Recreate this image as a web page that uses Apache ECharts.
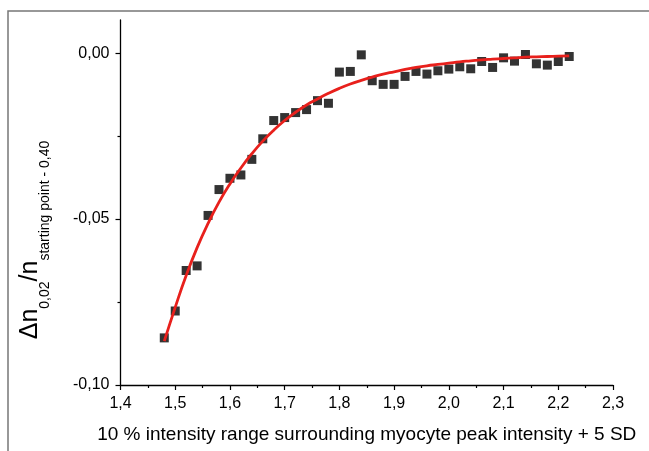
<!DOCTYPE html>
<html>
<head>
<meta charset="utf-8">
<script src="https://cdn.jsdelivr.net/npm/echarts@6/dist/echarts.min.js"></script>
<style>
html,body{margin:0;padding:0;background:#fff;}
#chart{width:649px;height:451px;}
</style>
</head>
<body>
<div id="chart"></div>
<script>
// measured data points (x, Δn ratio)
const xValues = [1.48,1.50,1.52,1.54,1.56,1.58,1.60,1.62,1.64,1.66,1.68,1.70,1.72,1.74,1.76,1.78,1.80,1.82,1.84,1.86,1.88,1.90,1.92,1.94,1.96,1.98,2.00,2.02,2.04,2.06,2.08,2.10,2.12,2.14,2.16,2.18,2.20,2.22];
const yValues = [-0.0858,-0.0777,-0.0655,-0.0641,-0.0489,-0.0411,-0.0377,-0.0367,-0.0320,-0.0258,-0.0203,-0.0194,-0.0179,-0.0170,-0.0143,-0.0151,-0.0057,-0.0055,-0.0005,-0.0083,-0.0094,-0.0094,-0.0070,-0.0055,-0.0063,-0.0053,-0.0048,-0.0041,-0.0047,-0.0025,-0.0043,-0.0014,-0.0024,-0.0004,-0.0032,-0.0036,-0.0025,-0.0010];
// fitted curve
const fitX = [1.48,1.50,1.52,1.54,1.56,1.58,1.60,1.62,1.64,1.66,1.68,1.70,1.72,1.74,1.76,1.78,1.80,1.82,1.84,1.86,1.88,1.90,1.92,1.94,1.96,1.98,2.00,2.02,2.04,2.06,2.08,2.10,2.12,2.14,2.16,2.18,2.20,2.22];
const fitY = [-0.0868,-0.0766,-0.0670,-0.0586,-0.0513,-0.0449,-0.0394,-0.0346,-0.0303,-0.0265,-0.0232,-0.0203,-0.0178,-0.0156,-0.0138,-0.0121,-0.0106,-0.0093,-0.0082,-0.0072,-0.0063,-0.0056,-0.0049,-0.0043,-0.0038,-0.0034,-0.0030,-0.0026,-0.0023,-0.0020,-0.0018,-0.0016,-0.0014,-0.0012,-0.0011,-0.0010,-0.0009,-0.0008];
// axis ticks
const yMajorTicks = [-0.10,-0.05,0.00];
const yMinorTicks = [-0.075,-0.025];
const xTitle = '10 % intensity range surrounding myocyte peak intensity + 5 SD';

const chart = echarts.init(document.getElementById('chart'), null, {renderer:'canvas'});
const fmt = (v, d) => v.toFixed(d).replace('.', ',');
const FONT = 'Liberation Sans, Arial, sans-serif';

chart.setOption({
  animation: false,
  backgroundColor: '#fff',
  grid: {left: 120.5, right: 36, top: 20, bottom: 66, containLabel: false},
  xAxis: {
    type: 'value', min: 1.4, max: 2.3, interval: 0.1,
    axisLine: {onZero: false, lineStyle: {color: '#000', width: 1.3}},
    axisTick: {length: 5, lineStyle: {color: '#000', width: 1.2}},
    minorTick: {show: true, splitNumber: 2, length: 3, lineStyle: {color: '#000', width: 1.2}},
    splitLine: {show: false},
    axisLabel: {color: '#000', fontSize: 16, fontFamily: FONT, margin: 11, formatter: v => fmt(v, 1)},
    name: xTitle, nameLocation: 'middle', nameGap: 40,
    nameTextStyle: {color: '#000', fontSize: 19, fontFamily: FONT}
  },
  yAxis: [{
    type: 'value', min: -0.10, max: 0.01, position: 'left',
    axisLine: {onZero: false, lineStyle: {color: '#000', width: 1.3}},
    axisTick: {length: 5, customValues: yMajorTicks, lineStyle: {color: '#000', width: 1.2}},
    splitLine: {show: false},
    axisLabel: {color: '#000', fontSize: 16, fontFamily: FONT, margin: 11, customValues: yMajorTicks, formatter: v => fmt(v, 2)}
  }, {
    type: 'value', min: -0.10, max: 0.01, position: 'left',
    axisLine: {show: false, onZero: false},
    axisTick: {length: 3, customValues: yMinorTicks, lineStyle: {color: '#000', width: 1.2}},
    splitLine: {show: false},
    axisLabel: {show: false}
  }],
  series: [{
    type: 'scatter', yAxisIndex: 0,
    symbol: 'rect', symbolSize: 9,
    itemStyle: {color: '#000'},
    data: xValues.map((x, i) => [x, yValues[i]]),
    z: 2
  }, {
    type: 'line', yAxisIndex: 0, smooth: true, showSymbol: false, symbol: 'none',
    lineStyle: {color: '#e8201c', width: 2.8},
    data: fitX.map((x, i) => [x, fitY[i]]),
    z: 3
  }],
  graphic: [{
    type: 'rect', silent: true,
    shape: {x: 8, y: 11, width: 700, height: 500},
    style: {fill: 'none', stroke: '#777', lineWidth: 1.5}
  }, {
    type: 'text', silent: true,
    x: 35, y: 240, rotation: Math.PI / 2,
    style: {
      text: '{m|Δn}{s|0,02}{m|/n}{s|starting point - 0,40}',
      align: 'center', verticalAlign: 'middle',
      rich: {
        m: {fontSize: 25, fontFamily: FONT, fill: '#000', lineHeight: 28, verticalAlign: 'top'},
        s: {fontSize: 14, fontFamily: FONT, fill: '#000', lineHeight: 35, verticalAlign: 'bottom'}
      }
    }
  }]
});
</script>
</body>
</html>
